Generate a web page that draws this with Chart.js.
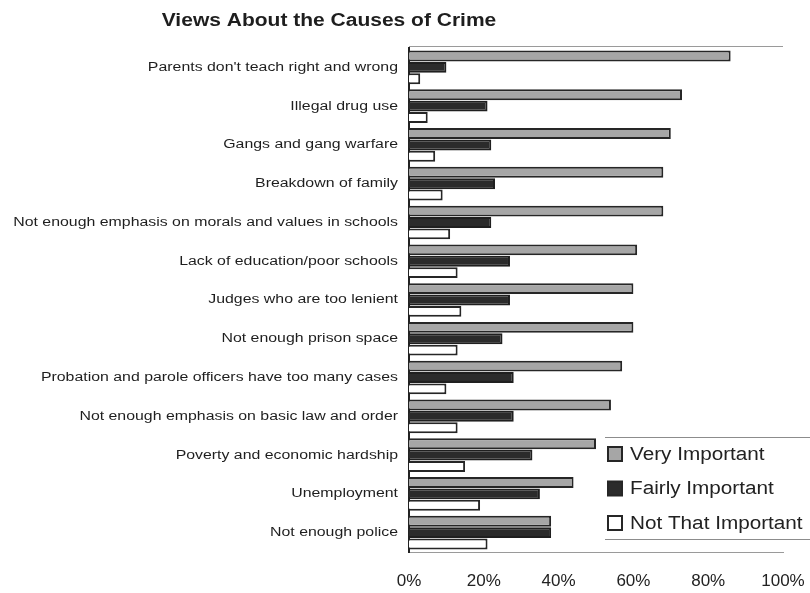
<!DOCTYPE html>
<html>
<head>
<meta charset="utf-8">
<script src="https://cdn.jsdelivr.net/npm/chart.js@4.4.1/dist/chart.umd.min.js"></script>
<style>
  html, body { margin: 0; padding: 0; background: #ffffff; }
  #wrap { width: 810px; height: 593px; position: relative; }
  canvas { display: block; }
</style>
</head>
<body>
<div id="wrap"><canvas id="crime" width="810" height="593"></canvas></div>
<script>
// Survey: how important each factor is as a cause of crime (percent of respondents)
const categories = [
  "Parents don't teach right and wrong",
  "Illegal drug use",
  "Gangs and gang warfare",
  "Breakdown of family",
  "Not enough emphasis on morals and values in schools",
  "Lack of education/poor schools",
  "Judges who are too lenient",
  "Not enough prison space",
  "Probation and parole officers have too many cases",
  "Not enough emphasis on basic law and order",
  "Poverty and economic hardship",
  "Unemployment",
  "Not enough police"
];
const veryImportant    = [86, 73, 70, 68, 68, 61, 60, 60, 57, 54, 50, 44, 38];
const fairlyImportant  = [10, 21, 22, 23, 22, 27, 27, 25, 28, 28, 33, 35, 38];
const notThatImportant = [3, 5, 7, 9, 11, 13, 14, 13, 10, 13, 15, 19, 21];
const seriesNames = ["Very Important", "Fairly Important", "Not That Important"];
const xTicks = [0, 20, 40, 60, 80, 100];
const chartTitle = "Views About the Causes of Crime";

const INK = '#262626';
const SANS = '"Liberation Sans", Arial, sans-serif';

// Text drawn with a wide horizontal stretch (the print uses an expanded face)
function wideText(ctx, text, x, y, stretch, align) {
  ctx.save();
  ctx.translate(x, y);
  ctx.scale(stretch, 1);
  ctx.textAlign = align;
  ctx.fillText(text, 0, 0);
  ctx.restore();
}

// Title, category labels, frame line and an in-plot legend
const decorations = {
  id: 'decorations',
  afterDraw(chart) {
    const { ctx, chartArea: a } = chart;
    const yScale = chart.scales.y;
    ctx.save();
    ctx.textBaseline = 'middle';

    // title
    ctx.fillStyle = '#1e1e1e';
    ctx.font = 'bold 17.5px ' + SANS;
    wideText(ctx, chartTitle, 329, 21, 1.2, 'center');

    // category labels
    ctx.fillStyle = '#1e1e1e';
    ctx.font = '12.5px ' + SANS;
    chart.data.labels.forEach((lab, i) => {
      wideText(ctx, lab, a.left - 11, yScale.getPixelForValue(i), 1.27, 'right');
    });

    // top frame line of the plot
    ctx.strokeStyle = '#9a9a9a';
    ctx.lineWidth = 1;
    ctx.beginPath();
    ctx.moveTo(a.left, a.top - 1.5);
    ctx.lineTo(a.right, a.top - 1.5);
    ctx.stroke();

    // legend
    const lx = 605, top = 437, bottom = 539;
    ctx.strokeStyle = '#8c8c8c';
    ctx.beginPath();
    ctx.moveTo(lx, top + 0.5); ctx.lineTo(810, top + 0.5);
    ctx.moveTo(lx, bottom + 0.5); ctx.lineTo(810, bottom + 0.5);
    ctx.stroke();
    ctx.font = '18px ' + SANS;
    chart.data.datasets.forEach((ds, i) => {
      const cy = 454 + i * 34.5;
      ctx.fillStyle = ds.backgroundColor;
      ctx.fillRect(608, cy - 7, 14, 14);
      ctx.strokeStyle = INK;
      ctx.lineWidth = 2;
      ctx.strokeRect(608, cy - 7, 14, 14);
      ctx.fillStyle = '#222';
      wideText(ctx, ds.label, 630, cy + 1, 1.15, 'left');
    });
    ctx.restore();
  }
};

new Chart(document.getElementById('crime'), {
  type: 'bar',
  data: {
    labels: categories,
    datasets: [
      { label: seriesNames[0], data: veryImportant,    backgroundColor: '#a6a6a6', borderColor: INK, borderWidth: 2 },
      { label: seriesNames[1], data: fairlyImportant,  backgroundColor: '#2b2b2b', borderColor: '#1f1f1f', borderWidth: 2 },
      { label: seriesNames[2], data: notThatImportant, backgroundColor: '#ffffff', borderColor: INK, borderWidth: 2 }
    ]
  },
  plugins: [decorations],
  options: {
    indexAxis: 'y',
    responsive: false,
    animation: false,
    devicePixelRatio: 1,
    layout: { padding: { top: 48, right: 27, bottom: 0, left: 0 } },
    datasets: { bar: { categoryPercentage: 0.88, barPercentage: 0.96 } },
    plugins: {
      legend: { display: false },
      title: { display: false },
      tooltip: { enabled: false }
    },
    scales: {
      x: {
        min: 0,
        max: 100,
        afterBuildTicks(scale) { scale.ticks = xTicks.map(v => ({ value: v })); },
        afterFit(scale) { scale.height = 41; scale.paddingRight = 0; },
        grid: { display: false, drawTicks: false },
        border: { display: true, color: '#9a9a9a', width: 1 },
        ticks: {
          padding: 19,
          color: '#222',
          font: { family: SANS, size: 17 },
          callback: v => v + '%'
        }
      },
      y: {
        afterFit(scale) { scale.width = 409; },
        grid: { display: false, drawTicks: false },
        border: { display: true, color: '#222', width: 2 },
        ticks: { display: false }
      }
    }
  }
});
</script>
</body>
</html>
